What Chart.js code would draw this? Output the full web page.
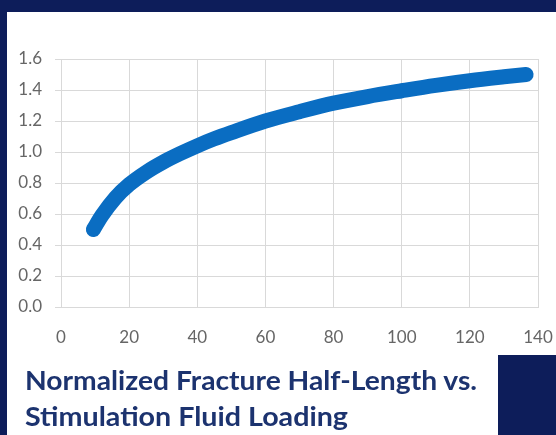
<!DOCTYPE html>
<html>
<head>
<meta charset="utf-8">
<script src="https://cdn.jsdelivr.net/npm/chart.js@4.4.1/dist/chart.umd.min.js"></script>
<style>
  html, body { margin: 0; padding: 0; }
  body { width: 556px; height: 435px; background: #0d1d5a; position: relative; overflow: hidden; }
  #panel { position: absolute; left: 7px; top: 12px; right: 0; bottom: 0; background: #ffffff; }
  #corner { position: absolute; left: 498px; top: 355px; right: 0; bottom: 0; background: #0d1d5a; }
  #wrap { position: absolute; left: 0; top: 0; width: 556px; height: 350px; }
  #caption { position: absolute; left: 0; top: 340px; }
</style>
</head>
<body>
<div id="panel"></div>
<div id="wrap"><canvas id="c" width="556" height="350"></canvas></div>
<svg id="caption" width="556" height="95" xmlns="http://www.w3.org/2000/svg">
  <text id="t1" x="25" y="50" font-family="Lato" font-weight="700" font-size="26" fill="#1c336f"
        textLength="452" lengthAdjust="spacingAndGlyphs">Normalized Fracture Half-Length vs.</text>
  <text id="t2" x="25" y="86" font-family="Lato" font-weight="700" font-size="26" fill="#1c336f"
        textLength="323" lengthAdjust="spacingAndGlyphs">Stimulation Fluid Loading</text>
</svg>
<div id="corner"></div>
<script>
// Fluid loading (x) and normalized fracture half-length (y)
const fluidLoading = [9.5, 12, 16, 20, 25, 30, 35, 40, 45, 50, 60, 70, 80, 90, 100, 110, 120, 130, 136.5];
const halfLength   = [0.50, 0.59, 0.705, 0.79, 0.87, 0.935, 0.99, 1.04, 1.085, 1.125, 1.20, 1.26, 1.315, 1.358, 1.395, 1.43, 1.46, 1.485, 1.50];
const xTicks = [0, 20, 40, 60, 80, 100, 120, 140];
const yTicks = [0.0, 0.2, 0.4, 0.6, 0.8, 1.0, 1.2, 1.4, 1.6];

const points = fluidLoading.map((x, i) => ({ x: x, y: halfLength[i] }));
const gridGray = '#d9d9d9';
const tickFont = { family: 'Lato', size: 17 };

new Chart(document.getElementById('c'), {
  type: 'line',
  data: {
    datasets: [{
      data: points,
      borderColor: '#0a6dc2',
      borderWidth: 15,
      borderCapStyle: 'round',
      borderJoinStyle: 'round',
      cubicInterpolationMode: 'monotone',
      pointRadius: 0,
      fill: false,
      clip: false
    }]
  },
  options: {
    responsive: false,
    animation: false,
    events: [],
    layout: { padding: { left: 0, right: 0, top: 59, bottom: 0 } },
    plugins: { legend: { display: false }, tooltip: { enabled: false } },
    scales: {
      x: {
        type: 'linear',
        min: xTicks[0],
        max: xTicks[xTicks.length - 1],
        afterBuildTicks: s => { s.ticks = xTicks.map(v => ({ value: v })); },
        afterFit: s => { s.height = 43; s.paddingRight = 18; },
        grid: { color: gridGray, lineWidth: 1, drawTicks: false },
        border: { color: gridGray, width: 1 },
        ticks: { color: '#666666', font: tickFont, padding: 20, maxRotation: 0 }
      },
      y: {
        type: 'linear',
        min: yTicks[0],
        max: yTicks[yTicks.length - 1],
        afterBuildTicks: s => { s.ticks = yTicks.map(v => ({ value: v })); },
        afterFit: s => { s.width = 61; },
        grid: { color: gridGray, lineWidth: 1, drawTicks: true, tickLength: 6 },
        border: { color: gridGray, width: 1 },
        ticks: { color: '#666666', font: tickFont, padding: 13, callback: v => Number(v).toFixed(1) }
      }
    }
  }
});
</script>
</body>
</html>
